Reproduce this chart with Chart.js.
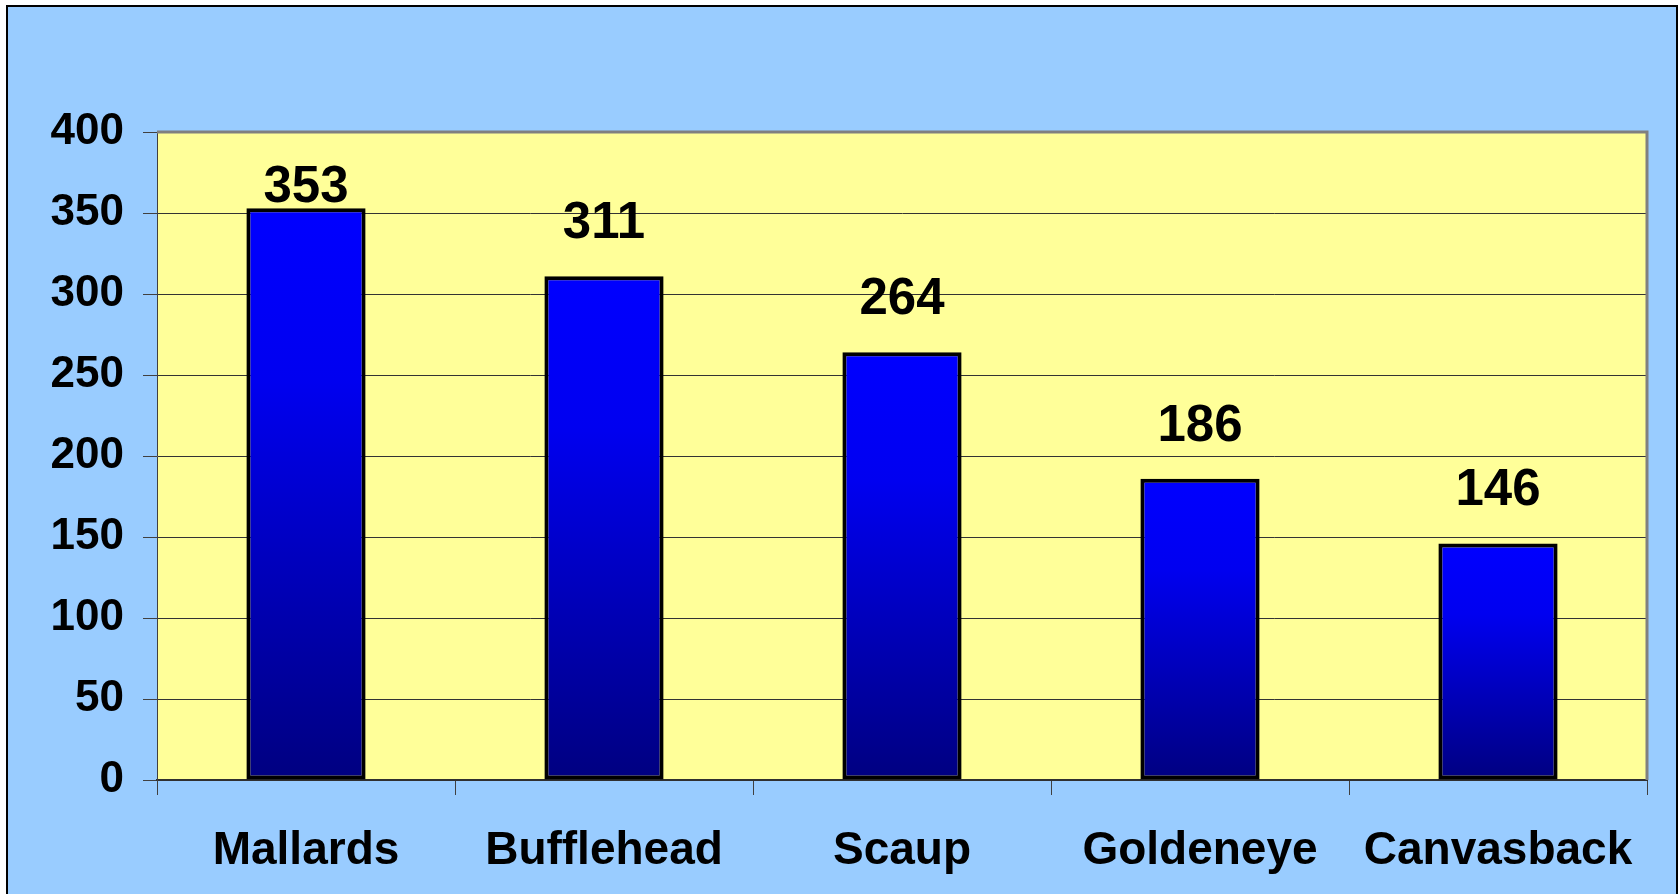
<!DOCTYPE html>
<html>
<head>
<meta charset="utf-8">
<title>Anatre</title>
<script src="https://cdn.jsdelivr.net/npm/chart.js@4.4.1/dist/chart.umd.min.js"></script>
<style>
  body { margin: 0; background: #ffffff; }
  #wrap { width: 1680px; height: 894px; }
</style>
</head>
<body>
<div id="wrap">
  <canvas id="myChart" width="1680" height="894"></canvas>
</div>
<script>
// dati del grafico
var categorie = ["Mallards", "Bufflehead", "Scaup", "Goldeneye", "Canvasback"];
var conteggi = [353, 311, 264, 186, 146];
var tickAsseY = [0, 50, 100, 150, 200, 250, 300, 350, 400];

var font = '"Liberation Sans", Arial, sans-serif';

// sfondo azzurro con cornice + area gialla
var sfondoPlugin = {
  id: "sfondo",
  beforeDraw: function(chart) {
    var ctx = chart.ctx;
    var area = chart.chartArea;
    ctx.save();
    ctx.fillStyle = "#ffffff";
    ctx.fillRect(0, 0, chart.width, chart.height);
    ctx.fillStyle = "#99CCFF";
    ctx.fillRect(7, 6, 1670, 900);
    ctx.strokeStyle = "#000000";
    ctx.lineWidth = 2;
    ctx.strokeRect(7, 6, 1670, 900);
    ctx.fillStyle = "#FFFF99";
    ctx.fillRect(area.left, area.top, area.right - area.left, area.bottom - area.top);
    ctx.restore();
  },
  afterDraw: function(chart) {
    // bordo grigio sopra e a destra
    var ctx = chart.ctx;
    var area = chart.chartArea;
    ctx.save();
    ctx.strokeStyle = "#808080";
    ctx.lineWidth = 3;
    ctx.beginPath();
    ctx.moveTo(area.left, area.top);
    ctx.lineTo(area.right, area.top);
    ctx.lineTo(area.right, area.bottom);
    ctx.stroke();
    ctx.restore();
  }
};

// etichette con i valori sopra le barre
var etichettePlugin = {
  id: "etichette",
  afterDatasetsDraw: function(chart) {
    var ctx = chart.ctx;
    var meta = chart.getDatasetMeta(0);
    ctx.save();
    ctx.fillStyle = "#000000";
    ctx.font = "bold 51px " + font;
    ctx.textAlign = "center";
    ctx.textBaseline = "alphabetic";
    for (var i = 0; i < meta.data.length; i++) {
      var barra = meta.data[i];
      var y = Math.max(barra.y - 38, chart.chartArea.top + 70);
      ctx.fillText(String(conteggi[i]), barra.x, y);
    }
    ctx.restore();
  }
};

var canvas = document.getElementById("myChart");

var grafico = new Chart(canvas, {
  type: "bar",
  data: {
    labels: categorie,
    datasets: [{
      data: conteggi,
      backgroundColor: function(context) {
        var chart = context.chart;
        if (!chart.chartArea) {
          return "#0000FF";
        }
        var scalaY = chart.scales.y;
        var cima = scalaY.getPixelForValue(context.raw);
        var base = scalaY.getPixelForValue(0);
        var grad = chart.ctx.createLinearGradient(0, cima, 0, base);
        grad.addColorStop(0, "#0000FF");
        grad.addColorStop(0.3, "#0000F0");
        grad.addColorStop(1, "#000080");
        return grad;
      },
      borderColor: "#000000",
      borderWidth: 4,
      borderSkipped: false,
      barPercentage: 0.4,
      categoryPercentage: 1
    }]
  },
  options: {
    responsive: false,
    devicePixelRatio: 1,
    animation: false,
    layout: {
      padding: { top: 132, right: 33, left: 0, bottom: 0 }
    },
    plugins: {
      legend: { display: false },
      tooltip: { enabled: false }
    },
    scales: {
      x: {
        afterFit: function(scale) { scale.height = 114; },
        grid: {
          display: true,
          offset: true,
          drawOnChartArea: false,
          drawTicks: true,
          tickLength: 15,
          color: "#404040",
          lineWidth: 1
        },
        border: { display: true, color: "#303030", width: 2 },
        ticks: {
          color: "#000000",
          padding: 29,
          font: { family: font, size: 46, weight: "bold" }
        }
      },
      y: {
        min: tickAsseY[0],
        max: tickAsseY[tickAsseY.length - 1],
        afterFit: function(scale) { scale.width = 157; },
        afterBuildTicks: function(scale) {
          scale.ticks = tickAsseY.map(function(v) { return { value: v }; });
        },
        grid: {
          color: "#333333",
          lineWidth: 1,
          tickLength: 14,
          tickColor: "#404040"
        },
        border: { display: true, color: "#404040", width: 1 },
        ticks: {
          color: "#000000",
          padding: 19,
          font: { family: font, size: 44, weight: "bold" }
        }
      }
    }
  },
  plugins: [sfondoPlugin, etichettePlugin]
});
</script>
</body>
</html>
